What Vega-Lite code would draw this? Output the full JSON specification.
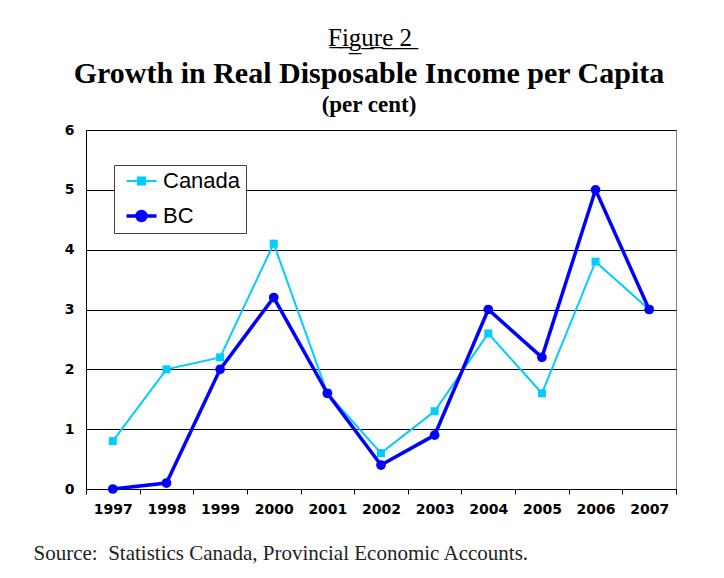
{
  "$schema": "https://vega.github.io/schema/vega-lite/v6.json",
  "width": 590,
  "height": 359,
  "autosize": {"type": "none"},
  "padding": {"left": 86, "top": 130, "right": 48, "bottom": 89},
  "background": "white",
  "config": {"view": {"stroke": "#808080", "strokeWidth": 1}},
  "title": {
    "text": "Growth in Real Disposable Income per Capita",
    "subtitle": "(per cent)",
    "font": "Liberation Serif",
    "fontSize": 30,
    "fontWeight": "bold",
    "color": "black",
    "subtitleFont": "Liberation Serif",
    "subtitleFontSize": 23,
    "subtitleFontWeight": "bold",
    "subtitleColor": "black",
    "subtitlePadding": 5,
    "anchor": "middle",
    "frame": "group",
    "dx": -12,
    "dy": 92,
    "offset": 0
  },
  "data": {
    "values": [
      {"year": "1997", "series": "Canada", "value": 0.8},
      {"year": "1998", "series": "Canada", "value": 2.0},
      {"year": "1999", "series": "Canada", "value": 2.2},
      {"year": "2000", "series": "Canada", "value": 4.1},
      {"year": "2001", "series": "Canada", "value": 1.6},
      {"year": "2002", "series": "Canada", "value": 0.6},
      {"year": "2003", "series": "Canada", "value": 1.3},
      {"year": "2004", "series": "Canada", "value": 2.6},
      {"year": "2005", "series": "Canada", "value": 1.6},
      {"year": "2006", "series": "Canada", "value": 3.8},
      {"year": "2007", "series": "Canada", "value": 3.0},
      {"year": "1997", "series": "BC", "value": 0.0},
      {"year": "1998", "series": "BC", "value": 0.1},
      {"year": "1999", "series": "BC", "value": 2.0},
      {"year": "2000", "series": "BC", "value": 3.2},
      {"year": "2001", "series": "BC", "value": 1.6},
      {"year": "2002", "series": "BC", "value": 0.4},
      {"year": "2003", "series": "BC", "value": 0.9},
      {"year": "2004", "series": "BC", "value": 3.0},
      {"year": "2005", "series": "BC", "value": 2.2},
      {"year": "2006", "series": "BC", "value": 5.0},
      {"year": "2007", "series": "BC", "value": 3.0}
    ]
  },
  "layer": [
    {
      "transform": [{"filter": "datum.series === 'Canada'"}],
      "mark": {"type": "line", "strokeWidth": 2, "point": {"shape": "square", "filled": true, "size": 64, "opacity": 1}},
      "encoding": {
        "x": {
          "field": "year", "type": "ordinal", "bandPosition": 0.5,
          "scale": {"type": "band", "paddingInner": 0, "paddingOuter": 0},
          "axis": {
            "orient": "top", "labels": false, "ticks": false, "domain": false, "grid": false,
            "title": "F\u0332i\u0332g\u0332u\u0332r\u0332e\u0332\u00a0\u03322\u0332",
            "titleFont": "Liberation Serif", "titleFontSize": 25, "titleFontWeight": "normal", "titleColor": "black",
            "titleX": 283.5, "titleY": -85, "titleBaseline": "alphabetic", "titleAlign": "center"
          }
        },
        "y": {
          "field": "value", "type": "quantitative",
          "scale": {"domain": [0, 6], "nice": false},
          "axis": {"title": null, "values": [0, 1, 2, 3, 4, 5, 6], "ticks": false, "labelPadding": 12,
            "labelFont": "DejaVu Sans", "labelFontWeight": "bold", "labelFontSize": 14, "labelColor": "black",
            "domainColor": "black", "gridColor": "black", "gridOpacity": 1, "grid": true}
        },
        "color": {
          "field": "series", "type": "nominal",
          "scale": {"domain": ["Canada", "BC"], "range": ["#00CCFF", "#0000FF"]},
          "legend": {
            "title": null, "orient": "none", "legendX": 28, "legendY": 35,
            "fillColor": "white", "strokeColor": "#404040", "padding": 5,
            "symbolSize": 225, "symbolOffset": 11.5, "labelOffset": 10.5,
            "labelFont": "Liberation Sans", "labelFontSize": 22, "labelColor": "black", "rowPadding": 12,
            "encode": {"symbols": {"update": {
              "shape": {"signal": "datum.value === 'BC' ? 'M-2,0L2,0M0.6,0A0.6,0.6,0,1,1,-0.6,0A0.6,0.6,0,1,1,0.6,0Z' : 'M-2,0L2,0M-0.47,-0.47L0.47,-0.47L0.47,0.47L-0.47,0.47Z'"},
              "strokeWidth": {"signal": "datum.value === 'BC' ? 3.5 : 2"},
              "fill": {"signal": "scale('color', datum.value)"},
              "stroke": {"signal": "scale('color', datum.value)"},
              "opacity": {"value": 1}
            }}}
          }
        }
      }
    },
    {
      "transform": [{"filter": "datum.series === 'BC'"}],
      "mark": {"type": "line", "strokeWidth": 3.5, "point": {"shape": "circle", "filled": true, "size": 95, "opacity": 1}},
      "encoding": {
        "x": {
          "field": "year", "type": "ordinal", "bandPosition": 0.5,
          "scale": {"type": "band", "paddingInner": 0, "paddingOuter": 0},
          "axis": {
            "orient": "bottom", "labelAngle": 0, "tickBand": "extent", "ticks": true, "tickSize": 5, "tickColor": "black",
            "domainColor": "black", "grid": false, "labelPadding": 8,
            "labelFont": "DejaVu Sans", "labelFontWeight": "bold", "labelFontSize": 14, "labelColor": "black",
            "title": "Source:\u00a0\u00a0Statistics Canada, Provincial Economic Accounts.",
            "titleFont": "Liberation Serif", "titleFontSize": 21, "titleFontWeight": "normal", "titleColor": "#222222",
            "titleAnchor": "start", "titleAlign": "left", "titleX": -53, "titleY": 70, "titleBaseline": "alphabetic"
          }
        },
        "y": {
          "field": "value", "type": "quantitative",
          "scale": {"domain": [0, 6], "nice": false},
          "axis": {"title": null, "values": [0, 1, 2, 3, 4, 5, 6], "ticks": false, "labelPadding": 12,
            "labelFont": "DejaVu Sans", "labelFontWeight": "bold", "labelFontSize": 14, "labelColor": "black",
            "domainColor": "black", "gridColor": "black", "gridOpacity": 1, "grid": true}
        },
        "color": {
          "field": "series", "type": "nominal",
          "scale": {"domain": ["Canada", "BC"], "range": ["#00CCFF", "#0000FF"]},
          "legend": {
            "title": null, "orient": "none", "legendX": 28, "legendY": 35,
            "fillColor": "white", "strokeColor": "#404040", "padding": 5,
            "symbolSize": 225, "symbolOffset": 11.5, "labelOffset": 10.5,
            "labelFont": "Liberation Sans", "labelFontSize": 22, "labelColor": "black", "rowPadding": 12,
            "encode": {"symbols": {"update": {
              "shape": {"signal": "datum.value === 'BC' ? 'M-2,0L2,0M0.6,0A0.6,0.6,0,1,1,-0.6,0A0.6,0.6,0,1,1,0.6,0Z' : 'M-2,0L2,0M-0.47,-0.47L0.47,-0.47L0.47,0.47L-0.47,0.47Z'"},
              "strokeWidth": {"signal": "datum.value === 'BC' ? 3.5 : 2"},
              "fill": {"signal": "scale('color', datum.value)"},
              "stroke": {"signal": "scale('color', datum.value)"},
              "opacity": {"value": 1}
            }}}
          }
        }
      }
    }
  ],
  "resolve": {"axis": {"x": "independent"}}
}
